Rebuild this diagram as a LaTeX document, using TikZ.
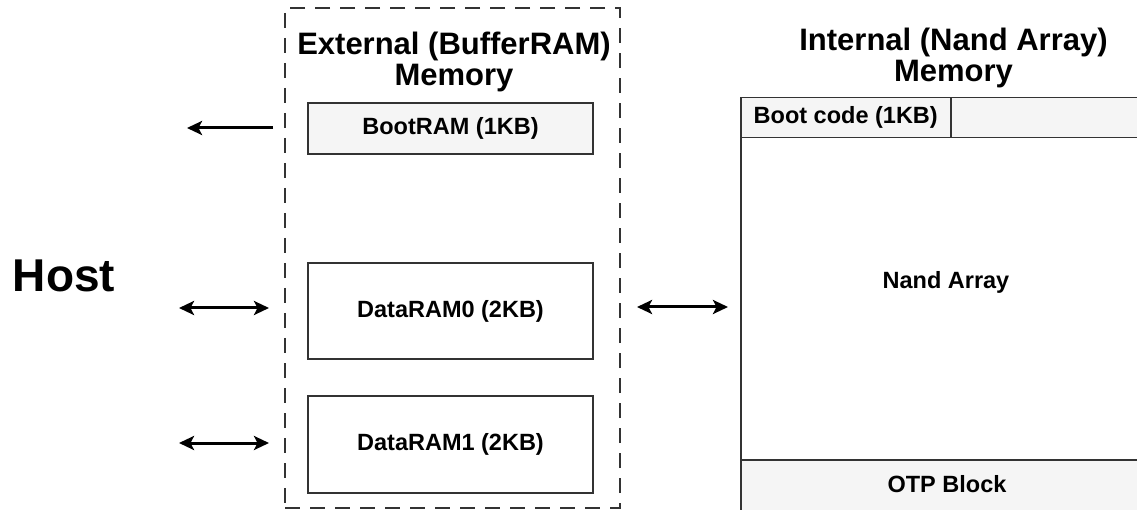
\documentclass[tikz,border=0pt]{standalone}
\usepackage{fontspec}
\setmainfont{Liberation Sans}
\usetikzlibrary{arrows.meta,positioning}
\definecolor{boxfill}{HTML}{F5F5F5}
\definecolor{edge}{HTML}{333333}
\tikzset{
  lbl/.style={font=\fontsize{23.5}{26}\selectfont\bfseries, inner sep=0pt},
  ram/.style={lbl, draw=edge, line width=1.5pt, minimum width=285pt},
  title/.style={align=center, font=\fontsize{31}{31}\selectfont\bfseries, inner sep=0pt},
  conn/.style={line width=3pt, -{Stealth[length=15pt,width=14pt,inset=3.5pt]}},
  biconn/.style={line width=3pt, {Stealth[length=15pt,width=14pt,inset=3.5pt]}-{Stealth[length=15pt,width=14pt,inset=3.5pt]}},
}
\begin{document}
\begin{tikzpicture}[x=1pt,y=-1pt]
\useasboundingbox (0,0) rectangle (1137,510);
\clip (0,0) rectangle (1137,510);
% external dashed box
\node[draw=edge, line width=1.3pt, dash pattern=on 15pt off 10pt, minimum width=335pt, minimum height=500pt, inner sep=0pt] (ext) at (452.5,258) {};
\node[title] (exttitle) at (454,62) {External (BufferRAM)\\Memory};
\node[ram, fill=boxfill, minimum height=51pt] (boot) at (450.5,128.5) {BootRAM (1KB)};
\node[ram, minimum height=96pt] (d0) at (450.5,311) {DataRAM0 (2KB)};
\node[ram, minimum height=97pt] (d1) at (450.5,444.5) {DataRAM1 (2KB)};
% host
\node[font=\fontsize{46}{50}\selectfont\bfseries, inner sep=0pt] (host) at (64,276) {Host};
% internal memory
\node[title] (inttitle) at (953.5,58) {Internal (Nand Array)\\Memory};
\node[draw=edge, line width=1.5pt, minimum width=420pt, minimum height=440pt, anchor=north west, inner sep=0pt] (nand) at (740,97) {};
\node[lbl, draw=edge, line width=1.5pt, fill=boxfill, minimum width=210pt, minimum height=40pt, anchor=north west] (bootcode) at (740,97) {Boot code (1KB)};
\node[draw=edge, line width=1.5pt, fill=boxfill, minimum width=210pt, minimum height=40pt, anchor=north west, inner sep=0pt] (bootrest) at (950,97) {};
\node[draw=edge, line width=1.5pt, fill=boxfill, minimum width=420pt, minimum height=80pt, anchor=north west, inner sep=0pt] (otp) at (740,459) {};
\node[lbl] (otplabel) at (947,484) {OTP Block};
\node[lbl] (nandlabel) at (946,282) {Nand Array};
% connector ends
\coordinate (bootA) at (273,128);
\coordinate (bootB) at (187,128);
\coordinate (d0A) at (179,308);
\coordinate (d0B) at (269,308);
\coordinate (d1A) at (179,443);
\coordinate (d1B) at (269,443);
\coordinate (nA) at (637,307);
\coordinate (nB) at (728,307);
\draw[conn] (bootA) -- (bootB);
\draw[biconn] (d0A) -- (d0B);
\draw[biconn] (d1A) -- (d1B);
\draw[biconn] (nA) -- (nB);
\end{tikzpicture}
\end{document}
